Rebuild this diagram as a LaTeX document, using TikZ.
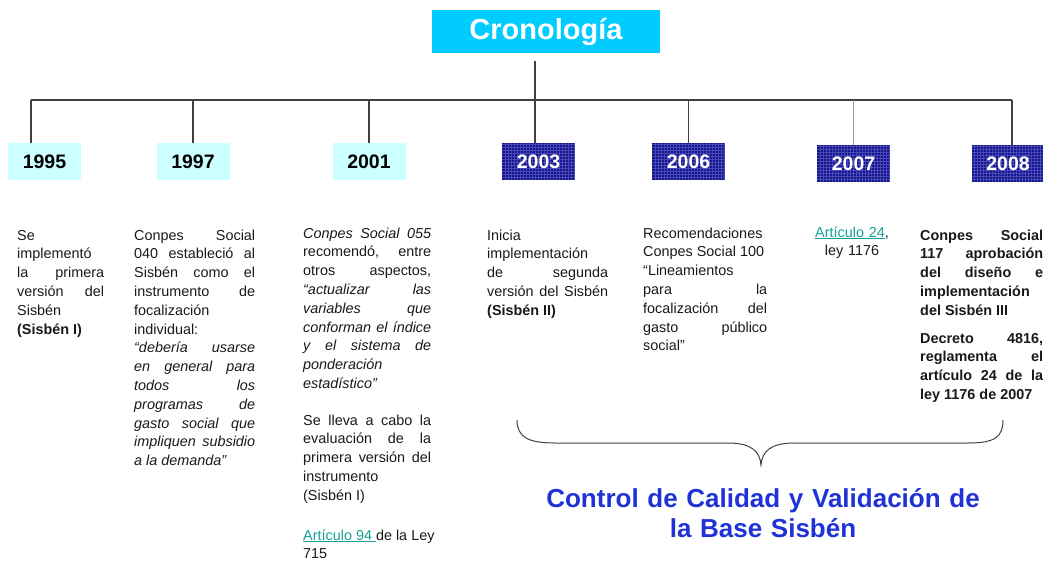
\documentclass[tikz,border=0pt]{standalone}
\usepackage{fontspec}
\setmainfont{Liberation Sans}
\usepackage{xcolor}
\usepackage{tikz}
\usetikzlibrary{positioning}

\definecolor{titlecyan}{RGB}{0,204,255}
\definecolor{palecyan}{RGB}{204,255,255}
\definecolor{navybox}{RGB}{22,22,140}
\definecolor{gridnavy}{RGB}{72,72,185}
\definecolor{linkteal}{RGB}{20,160,150}
\definecolor{qualityblue}{RGB}{30,50,215}

% one justified line of a column
\newcommand{\jl}[1]{\makebox[\hsize][s]{\spaceskip=0pt\relax #1}}
\newcommand{\bodyfont}{\fontsize{14.4}{18.8}\selectfont}

\begin{document}
\begin{tikzpicture}[x=1pt, y=-1pt, font=\bodyfont]
	\tikzstyle{titlebox} = [fill=titlecyan, text=white, minimum width=228pt, minimum height=43pt, inner sep=0pt, font=\fontsize{29}{31}\selectfont\bfseries]
	\tikzstyle{yearbox} = [fill=palecyan, minimum width=73pt, minimum height=37pt, inner sep=0pt, font=\fontsize{19.5}{22}\selectfont\bfseries]
	\tikzstyle{darkbox} = [yearbox, fill=navybox, text=white, path picture={\draw[gridnavy, line width=0.4pt] (path picture bounding box.south west) grid[step=3pt] (path picture bounding box.north east);}]
	\tikzstyle{bodytext} = [anchor=base west, inner sep=0pt, align=justify, text=black!90]
	\tikzstyle{bus} = [draw=black!75, line width=1.2pt]
	\tikzstyle{quality} = [anchor=base, inner sep=0pt, text width=480pt, align=center, text=qualityblue, font=\fontsize{26}{30}\selectfont\bfseries]

	\useasboundingbox (0,0) rectangle (1043,562);

	\node[titlebox]	(crono)	at (546, 31.5)	{Cronología};

	\node[yearbox]	(y1995)	at (44.5, 161.5)	{1995};
	\node[yearbox]	(y1997)	at (193, 161.5)	{1997};
	\node[yearbox]	(y2001)	at (369, 161.5)	{2001};
	\node[darkbox]	(y2003)	at (538.5, 161.5)	{2003};
	\node[darkbox]	(y2006)	at (688.5, 161.5)	{2006};
	\node[darkbox]	(y2007)	at (853.5, 163.5)	{2007};
	\node[darkbox]	(y2008)	at (1008, 163.5)	{2008};

	\coordinate (stem) at (535, 61);
	\coordinate (busL) at (31, 100);
	\coordinate (busR) at (1012, 100);

	\draw[bus] (busL) -- (busR);
	\draw[bus] (stem) -- (stem |- y2003.north);
	\draw[bus] (busL) -- (busL |- y1995.north);
	\draw[bus] (y1997.north) -- (y1997.north |- busL);
	\draw[bus] (y2001.north) -- (y2001.north |- busL);
	\draw[bus] (y2006.north) -- (y2006.north |- busL);
	\draw[bus, draw=black!40] (y2007.north) -- (y2007.north |- busL);
	\draw[bus] (busR) -- (busR |- y2008.north);

	% columns under the years
	\node[bodytext, text width=87pt]	(t1995)	at (17, 240)	{Se\\ implementó\\ \jl{la primera}\\ \jl{versión del}\\ Sisbén\\ \textbf{(Sisbén I)}};

	\node[bodytext, text width=121pt]	(t1997)	at (134, 240)	{\jl{Conpes Social}\\ \jl{040 estableció al}\\ \jl{Sisbén como el}\\ \jl{instrumento de}\\ focalización\\ individual:\\ \jl{\itshape “debería usarse}\\ \jl{\itshape en general para}\\ \jl{\itshape todos los}\\ \jl{\itshape programas de}\\ \jl{\itshape gasto social que}\\ \jl{\itshape impliquen subsidio}\\ \textit{a la demanda”}};

	\node[bodytext, text width=128pt]	(t2001a)	at (303, 238)	{\jl{\itshape Conpes Social 055}\\ \jl{recomendó, entre}\\ \jl{otros aspectos,}\\ \jl{\itshape “actualizar las}\\ \jl{\itshape variables que}\\ \jl{\itshape conforman el índice}\\ \jl{\itshape y el sistema de}\\ \textit{ponderación}\\ \textit{estadístico”}};
	\node[bodytext, text width=128pt]	(t2001b)	at (303, 425)	{\jl{Se lleva a cabo la}\\ \jl{evaluación de la}\\ \jl{primera versión del}\\ instrumento\\ (Sisbén I)};
	\node[bodytext, text width=150pt]	(t2001c)	at (303, 540)	{\textcolor{linkteal}{\underline{Artículo 94\ }}de la Ley\\ 715};

	\node[bodytext, text width=121pt]	(t2003)	at (487, 240)	{Inicia\\ implementación\\ \jl{de segunda}\\ \jl{versión del Sisbén}\\ \textbf{(Sisbén II)}};

	\node[bodytext, text width=124pt]	(t2006)	at (643, 238)	{Recomendaciones\\ Conpes Social 100\\ “Lineamientos\\ \jl{para la}\\ \jl{focalización del}\\ \jl{gasto público}\\ social”};

	\node[bodytext, anchor=base, align=center, text width=90pt]	(t2007)	at (852, 237)	{\textcolor{linkteal}{\underline{Artículo 24}},\\ ley 1176};

	\node[bodytext, text width=123pt, font=\bodyfont\bfseries]	(t2008a)	at (920, 240)	{\jl{Conpes Social}\\ \jl{117 aprobación}\\ \jl{del diseño e}\\ implementación\\ del Sisbén III};
	\node[bodytext, text width=123pt, font=\bodyfont\bfseries]	(t2008b)	at (920, 343)	{\jl{Decreto 4816,}\\ \jl{reglamenta el}\\ \jl{artículo 24 de la}\\ ley 1176 de 2007};

	% brace over 2003--2008
	\coordinate (braceL) at (517, 420);
	\coordinate (braceTip) at (761, 465);
	\coordinate (braceR) at (1003, 420);
	\draw[bus, line width=1pt] (braceL) .. controls (517, 437) and (528, 443) .. (555, 443) -- (728, 443) .. controls (752, 443) and (760, 452) .. (braceTip) .. controls (762, 452) and (770, 443) .. (794, 443) -- (968, 443) .. controls (995, 443) and (1003, 437) .. (braceR);

	\node[quality]	(control)	at (763, 507)	{Control de Calidad y Validación de\\ la Base Sisbén};
\end{tikzpicture}
\end{document}
